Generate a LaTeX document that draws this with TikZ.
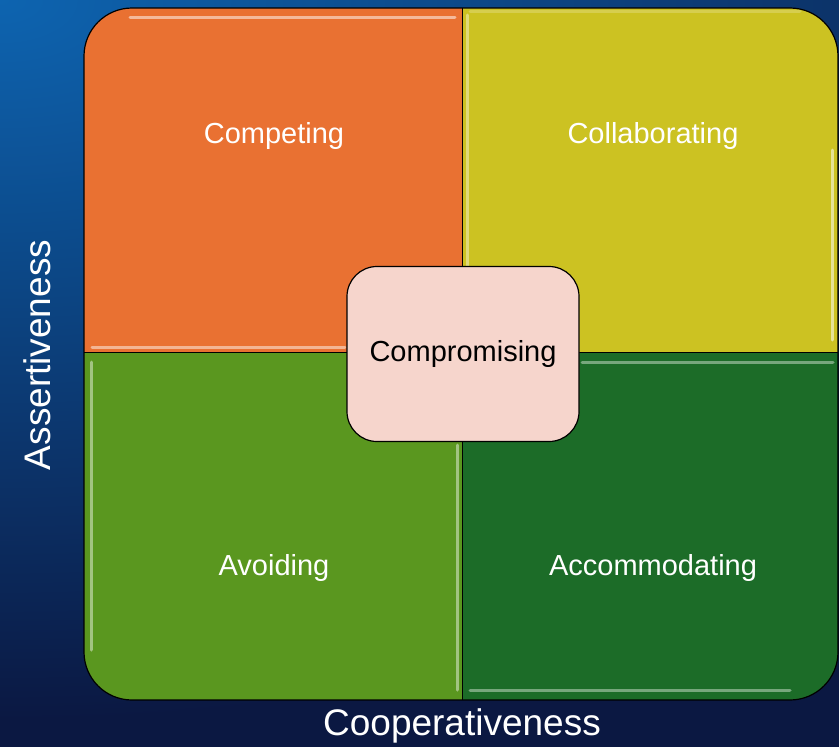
\documentclass[tikz,border=0pt]{standalone}
\usepackage{fontspec}
\setmainfont{Liberation Sans}

\definecolor{bgtop}{HTML}{0D64B0}
\definecolor{bgbot}{HTML}{0B1842}
\definecolor{compete}{HTML}{E97132}
\definecolor{collab}{HTML}{CCC222}
\definecolor{avoid}{HTML}{5A971F}
\definecolor{accom}{HTML}{1C6C28}
\definecolor{compro}{HTML}{F6D5CC}

\begin{document}
\begin{tikzpicture}[x=1pt,y=-1pt,
every node/.style={inner sep=1pt, font=\fontsize{29}{34}\selectfont},
quad/.style={text=white},
axislabel/.style={text=white, font=\fontsize{37}{44}\selectfont},
gloss/.style={line width=3pt, line cap=round, opacity=0.8}
]
\useasboundingbox (0,0) rectangle (839,747);
\fill[bgbot] (0,0) rectangle (839,747);
\begin{scope}
\clip (0,0) rectangle (839,747);
\shade[inner color=bgtop, outer color=bgbot] (0,0) ellipse [x radius=1300, y radius=720];
\end{scope}

% the four quadrants
\begin{scope}
\clip[rounded corners=48] (84,8) rectangle (838,700);
\foreach \xa/\ya/\xb/\yb/\c in {84/8/462/352/compete, 462/8/838/352/collab,
                                84/352/462/700/avoid, 462/352/838/700/accom}
    \fill[\c] (\xa,\ya) rectangle (\xb,\yb);
% glossy edges
\draw[gloss, compete!35!white] (130,17) -- (455,17);
\draw[gloss, compete!40!white] (92,347) -- (345,347);
\draw[gloss, collab!50!white] (467,15) -- (467,266);
\draw[gloss, collab!60!white, opacity=0.5] (470,11) -- (800,11);
\draw[gloss, collab!35!white] (832,150) -- (832,340);
\draw[gloss, avoid!45!white] (91,362) -- (91,650);
\draw[gloss, avoid!45!white] (457,445) -- (457,690);
\draw[gloss, accom!50!white] (582,362) -- (833,362);
\draw[gloss, accom!50!white] (470,690) -- (790,690);
\end{scope}
\draw[line width=1.2pt, rounded corners=48] (84,8) rectangle (838,700);
\draw[line width=0.8pt] (462,8) -- (462,700);
\draw[line width=0.6pt] (84,352) -- (838,352);

\foreach \n/\x/\y/\t in {competing/274/136/Competing, collaborating/653/136/Collaborating,
                         avoiding/274/568/Avoiding, accommodating/653/568/Accommodating}
    \node[quad] (\n) at (\x,\y) {\t};

\node[draw, line width=1.2pt, rounded corners=30, fill=compro, minimum width=232, minimum height=175]
    (compromising) at (463,354) {Compromising};

\node[axislabel, rotate=90] (assertiveness) at (37,355) {Assertiveness};
\node[axislabel] (cooperativeness) at (462,726) {Cooperativeness};
\end{tikzpicture}
\end{document}
